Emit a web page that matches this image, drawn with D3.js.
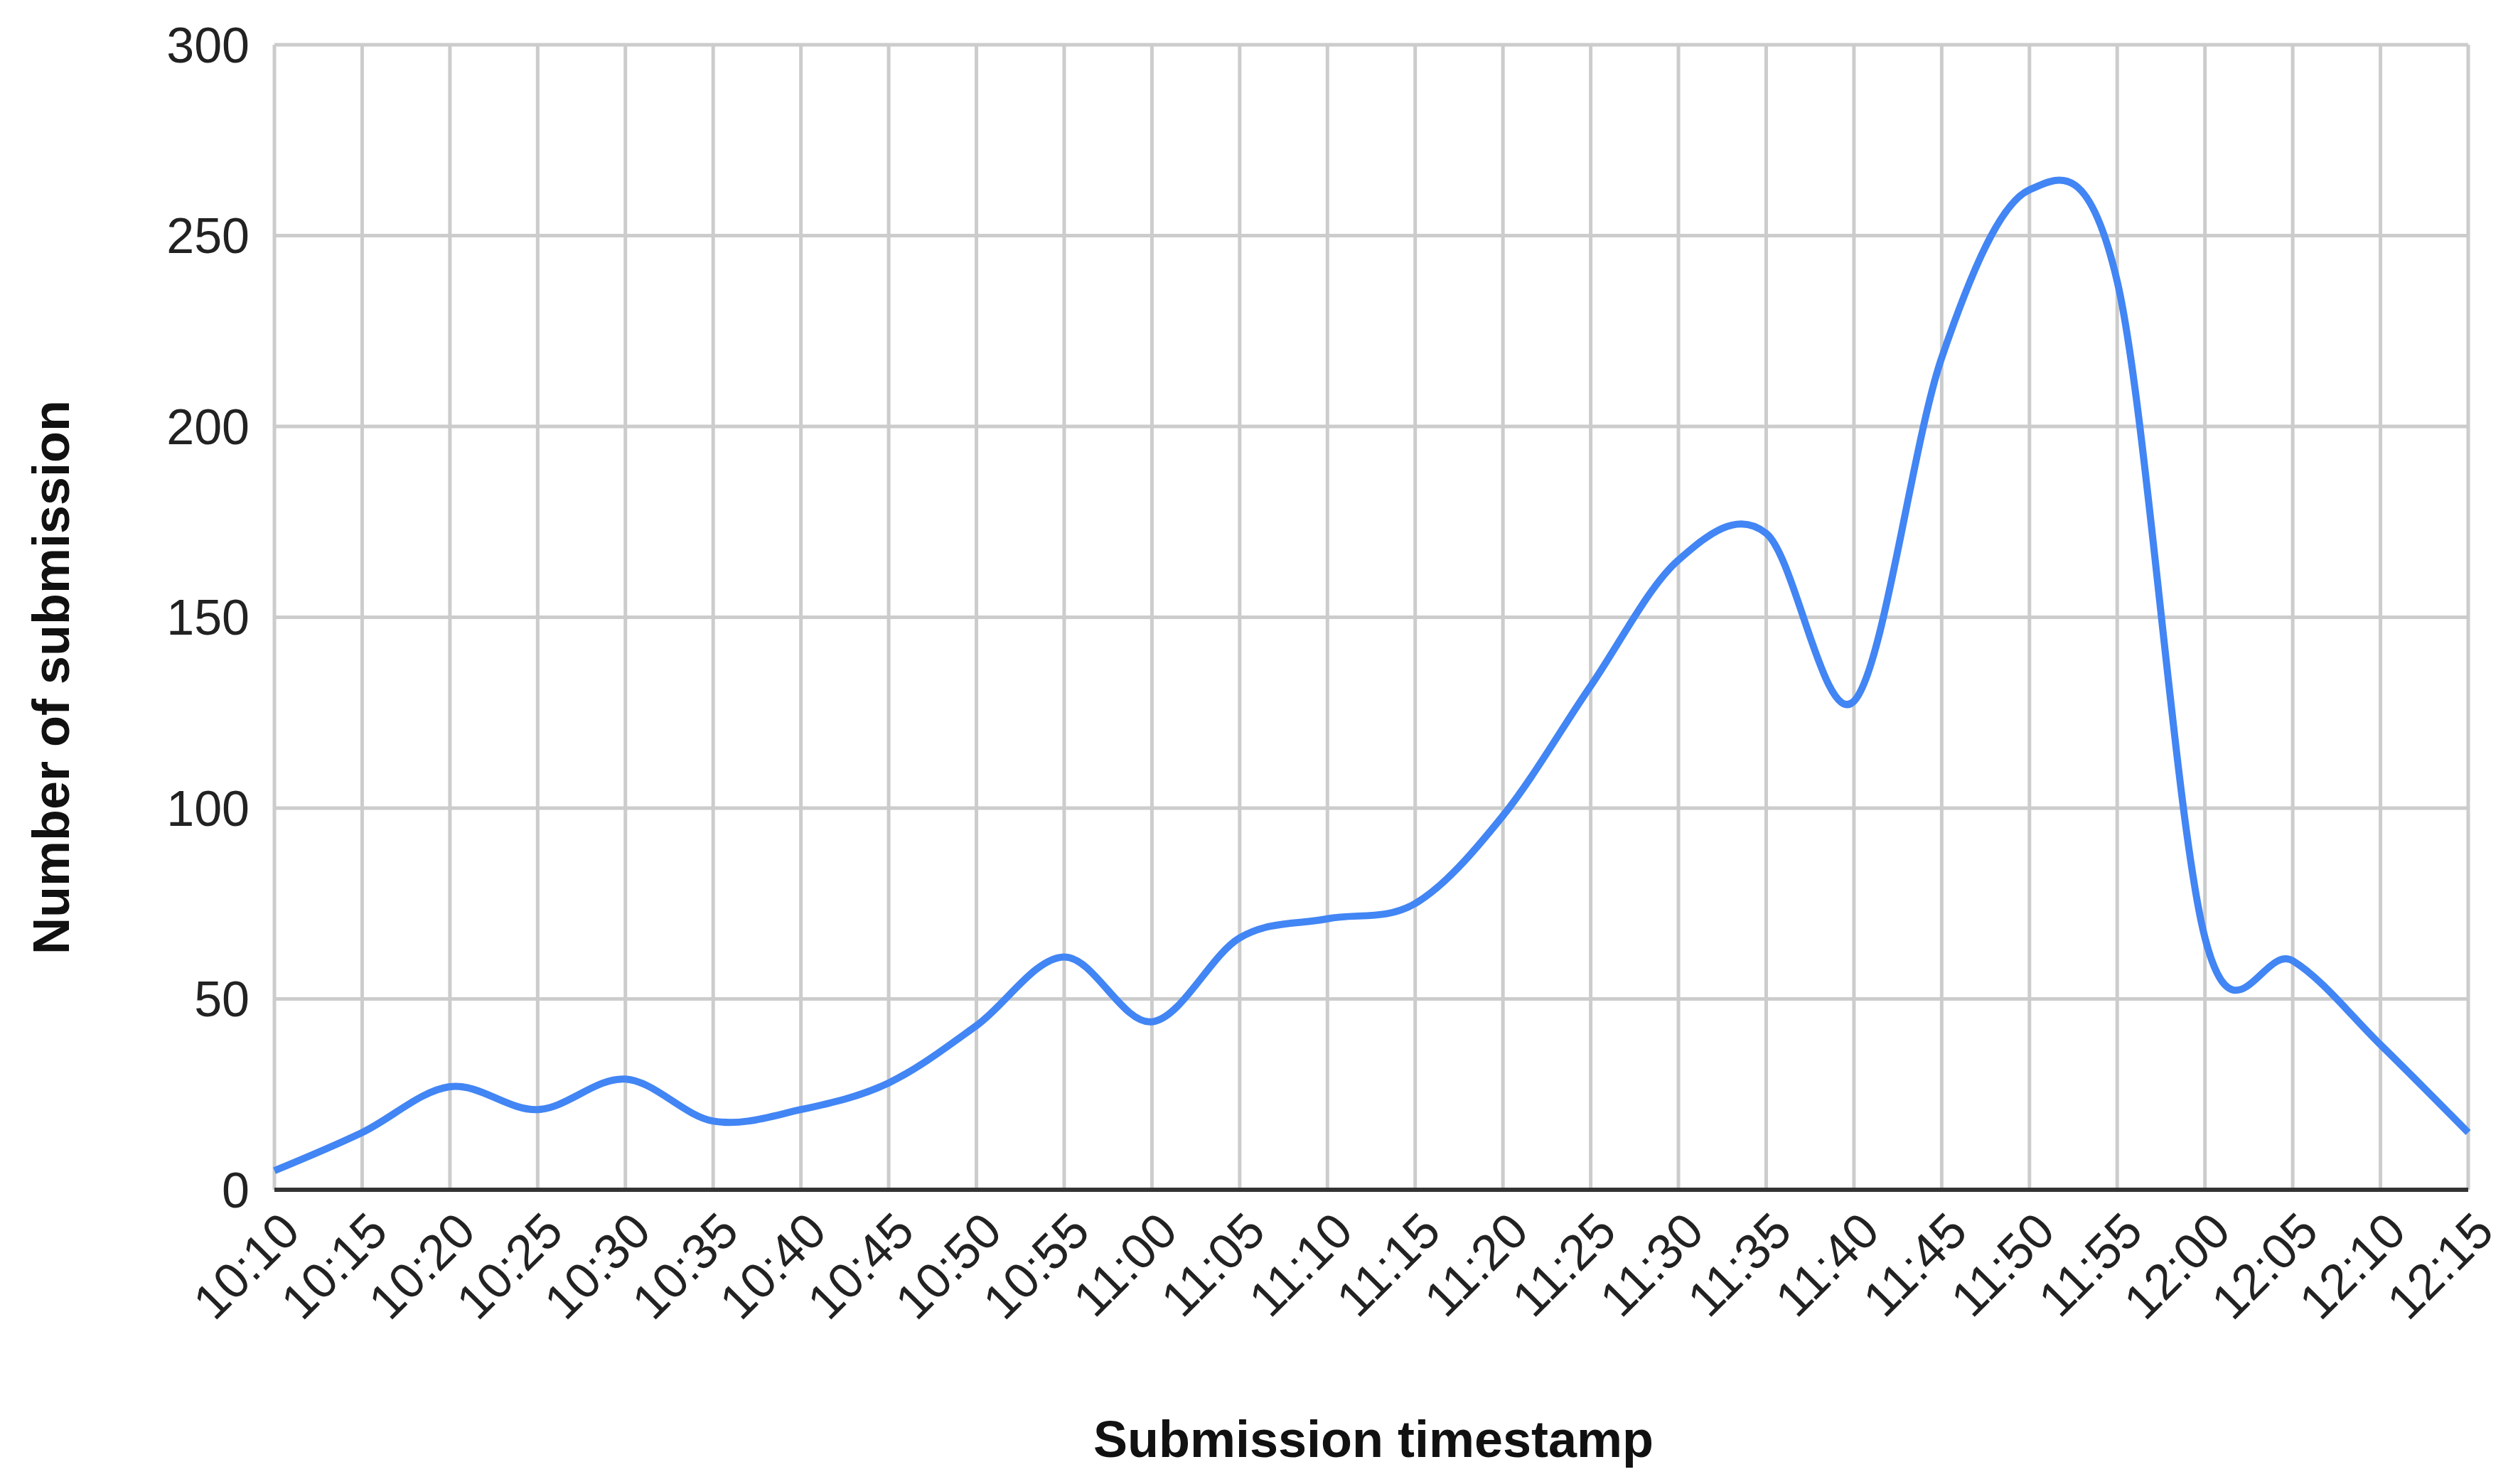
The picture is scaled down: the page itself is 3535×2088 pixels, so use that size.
<!DOCTYPE html>
<html><head><meta charset="utf-8">
<script src="https://cdn.jsdelivr.net/npm/d3@7"></script>
<style>body{margin:0;background:#fff}</style>
</head><body>
<script>
const times = ["10:10","10:15","10:20","10:25","10:30","10:35","10:40","10:45","10:50","10:55","11:00","11:05","11:10","11:15","11:20","11:25","11:30","11:35","11:40","11:45","11:50","11:55","12:00","12:05","12:10","12:15"];
const submissions = [5,15,27,21,29,18,21,28,43,61,44,66,71,75,98,132,165,172,128,218,262,238,66,60,38,15];
const yTicks = [0,50,100,150,200,250,300];

const W = 3535, H = 2088;
const m = {left: 386, right: 3472, top: 63, bottom: 1674};
const font = "'Liberation Sans', Arial, sans-serif";

const svg = d3.select("body").append("svg").attr("width", W).attr("height", H);

const x = d3.scalePoint().domain(times).range([m.left, m.right]);
const y = d3.scaleLinear().domain([0, 300]).range([m.bottom, m.top]);

// grid
svg.append("g").selectAll("line").data(times).join("line")
    .attr("x1", d => x(d)).attr("x2", d => x(d))
    .attr("y1", m.top).attr("y2", m.bottom)
    .attr("stroke", "#cccccc").attr("stroke-width", 5);
svg.append("g").selectAll("line").data(yTicks.slice(1)).join("line")
    .attr("x1", m.left).attr("x2", m.right)
    .attr("y1", d => y(d)).attr("y2", d => y(d))
    .attr("stroke", "#cccccc").attr("stroke-width", 5);

// line
const line = d3.line().x((d, i) => x(times[i])).y(d => y(d)).curve(d3.curveCardinal.tension(0));
svg.append("path").datum(submissions)
    .attr("d", line).attr("fill", "none")
    .attr("stroke", "#4285f4").attr("stroke-width", 10).attr("stroke-linejoin", "round");

// baseline
svg.append("line").attr("x1", m.left).attr("x2", m.right)
    .attr("y1", y(0)).attr("y2", y(0)).attr("stroke", "#333").attr("stroke-width", 6);

// y labels
svg.append("g").selectAll("text").data(yTicks).join("text")
    .attr("x", m.left - 35).attr("y", d => y(d)).attr("dy", "0.35em")
    .attr("text-anchor", "end").attr("font-family", font).attr("font-size", 70)
    .attr("fill", "#222").text(d => d);

// x labels
svg.append("g").selectAll("text").data(times).join("text")
    .attr("transform", d => `translate(${x(d) + 22},${m.bottom + 45}) rotate(-45)`)
    .attr("text-anchor", "end").attr("dy", "0.35em")
    .attr("font-family", font).attr("font-size", 70)
    .attr("fill", "#222").text(d => d);

// axis titles
svg.append("text").attr("x", 1932).attr("y", 2025).attr("dy", "0.35em")
    .attr("text-anchor", "middle").attr("font-family", font).attr("font-size", 72)
    .attr("font-weight", "bold").attr("fill", "#111").text("Submission timestamp");
svg.append("text").attr("transform", "translate(72,953) rotate(-90)").attr("dy", "0.35em")
    .attr("text-anchor", "middle").attr("font-family", font).attr("font-size", 72)
    .attr("font-weight", "bold").attr("fill", "#111").text("Number of submission");
</script>
</body></html>
